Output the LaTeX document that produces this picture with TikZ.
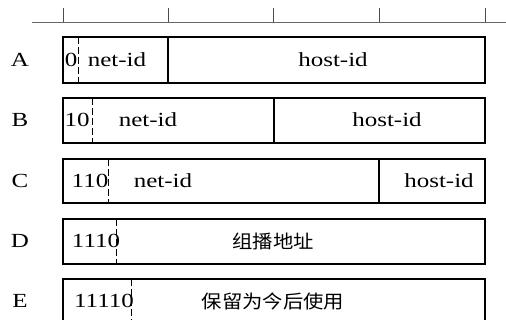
\documentclass[tikz,border=0pt]{standalone}
\usepackage{fontspec}
\setmainfont[FakeStretch=1.25]{Liberation Serif}
\newfontfamily\cjk[FakeStretch=1.1]{Noto Sans CJK SC}
\begin{document}
\begin{tikzpicture}[x=1pt,y=-1pt,
  fld/.style={draw=black,line width=1.3pt},
  sep/.style={draw=black,line width=1.1pt},
  dsh/.style={draw=black,line width=0.6pt,dash pattern=on 7pt off 3pt},
  axis/.style={draw=black!60,line width=0.8pt},
  tick/.style={draw=black!70,line width=0.8pt},
  txt/.style={inner sep=0pt,font=\fontsize{20}{24}\selectfont},
  ctxt/.style={inner sep=0pt,font=\fontsize{18.5}{22}\selectfont\cjk}]
\useasboundingbox (0,0) rectangle (506,320);
% axis
\draw[axis] (32,22) -- (506,22);
\foreach \x in {63,168,273,379,485} \draw[tick] (\x,8) -- (\x,22);
% row labels
\node[txt] (la) at (20,60) {A};
\node[txt] (lb) at (20,120) {B};
\node[txt] (lc) at (20,181) {C};
\node[txt] (ld) at (20,241) {D};
\node[txt] (le) at (20,301) {E};
% A
\draw[fld] (63,37) rectangle (485,83);
\draw[sep] (168,37) -- (168,83);
\draw[dsh] (78,37) -- (78,83);
\node[txt] (a0) at (71,60) {0};
\node[txt] (an) at (117,60) {net-id};
\node[txt] (ah) at (333,60) {host-id};
% B
\draw[fld] (63,98) rectangle (485,143);
\draw[sep] (274,98) -- (274,143);
\draw[dsh] (92,98) -- (92,143);
\node[txt] (b0) at (77,120) {10};
\node[txt] (bn) at (148,120) {net-id};
\node[txt] (bh) at (387,120) {host-id};
% C
\draw[fld] (63,159) rectangle (485,203);
\draw[sep] (379,159) -- (379,203);
\draw[dsh] (108,159) -- (108,203);
\node[txt] (c0) at (90,181) {110};
\node[txt] (cn) at (163,181) {net-id};
\node[txt] (ch) at (439,181) {host-id};
% D
\draw[fld] (63,219) rectangle (485,264);
\draw[dsh] (116,219) -- (116,264);
\node[txt] (d0) at (96,241) {1110};
\node[ctxt] (dh) at (273,241) {组播地址};
% E
\draw[fld] (63,322) -- (63,279) -- (485,279) -- (485,322);
\draw[dsh] (131,279) -- (131,322);
\node[txt] (e0) at (104,301) {11110};
\node[ctxt] (eh) at (273,301) {保留为今后使用};
\end{tikzpicture}
\end{document}
